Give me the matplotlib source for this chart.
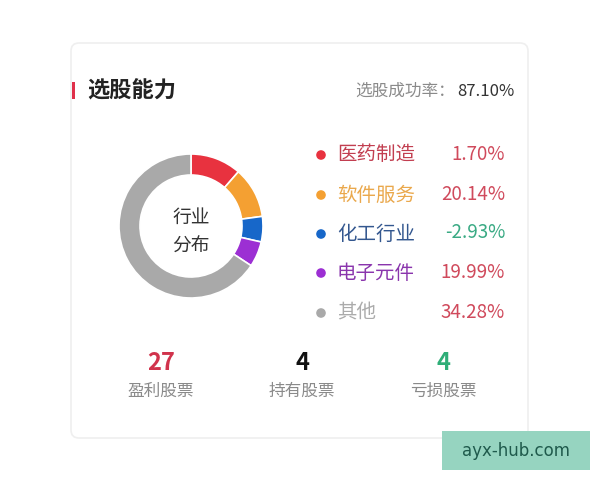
import matplotlib.pyplot as plt
from matplotlib.patches import FancyBboxPatch, Rectangle, Circle

plt.rcParams['font.family'] = ['Noto Sans CJK SC', 'DejaVu Sans']

# data
industries = ['医药制造', '软件服务', '化工行业', '电子元件', '其他']
returns = [1.70, 20.14, -2.93, 19.99, 34.28]
counts = [4, 4, 2, 2, 23]
sliceColors = ['#e8323f', '#f4a032', '#1767c9', '#9c2fd3', '#a9a9a9']
labelColors = ['#c23e50', '#eaa84c', '#33578f', '#8a35ad', '#ababab']
successRate = 87.10
statNames = ['盈利股票', '持有股票', '亏损股票']
statValues = [27, 4, 4]
statColors = ['#d1334c', '#111111', '#2fae78']

fig = plt.figure(figsize=(6, 4.8), dpi=100)
ax = fig.add_axes([0, 0, 1, 1])
ax.set_xlim(0, 600)
ax.set_ylim(480, 0)
ax.axis('off')

# card
ax.add_patch(FancyBboxPatch((71, 43), 457, 395, boxstyle='round,pad=0,rounding_size=8',
                            fc='white', ec='#efefef', lw=1.2))

# header
ax.add_patch(Rectangle((71.5, 82), 3, 17, fc='#e0304a', ec='none'))
ax.text(87, 91, '选股能力', fontsize=16, fontweight='bold', color='#222222',
        ha='left', va='center')
ax.text(514, 91, f'{successRate:.2f}%', fontsize=12, color='#333333',
        ha='right', va='center')
ax.text(455, 91, '选股成功率：', fontsize=12, color='#8a8a8a',
        ha='right', va='center')

# donut
pax = fig.add_axes([(191 - 72) / 600, (480 - 226 - 72) / 480, 144 / 600, 144 / 480])
pax.pie(counts, colors=sliceColors, startangle=90, counterclock=False,
        wedgeprops=dict(width=21 / 72, edgecolor='white', linewidth=1.2))
pax.set_xlim(-1, 1)
pax.set_ylim(-1, 1)
pax.set_aspect('equal')
ax.text(191, 217, '行业', fontsize=13.5, color='#333333', ha='center', va='center')
ax.text(191, 246, '分布', fontsize=13.5, color='#333333', ha='center', va='center')

# legend
rowY = [155, 195, 234, 273, 313]
for i, name in enumerate(industries):
    y = rowY[i]
    ax.add_patch(Circle((321, y), 4.8, fc=sliceColors[i], ec='none'))
    ax.text(337, y, name, fontsize=14, color=labelColors[i], ha='left', va='center')
    pctColor = '#d04a5c' if returns[i] >= 0 else '#3aaa84'
    ax.text(505, y - 1, f'{returns[i]:.2f}%', fontsize=13.5, color=pctColor,
            ha='right', va='center')

# stats
statX = [161, 302, 443]
for x, n, v, c in zip(statX, statNames, statValues, statColors):
    ax.text(x, 363, str(v), fontsize=17, fontweight='bold', color=c,
            ha='center', va='center')
    ax.text(x, 391, n, fontsize=12, color='#8a8a8a', ha='center', va='center')

# watermark
ax.add_patch(Rectangle((442, 431), 148, 39, fc='#96d4c0', ec='none'))
ax.text(516, 451, 'ayx-hub.com', fontsize=12, color='#1f5a4c',
        ha='center', va='center', family='DejaVu Sans')

fig.savefig('out.png', dpi=100)
